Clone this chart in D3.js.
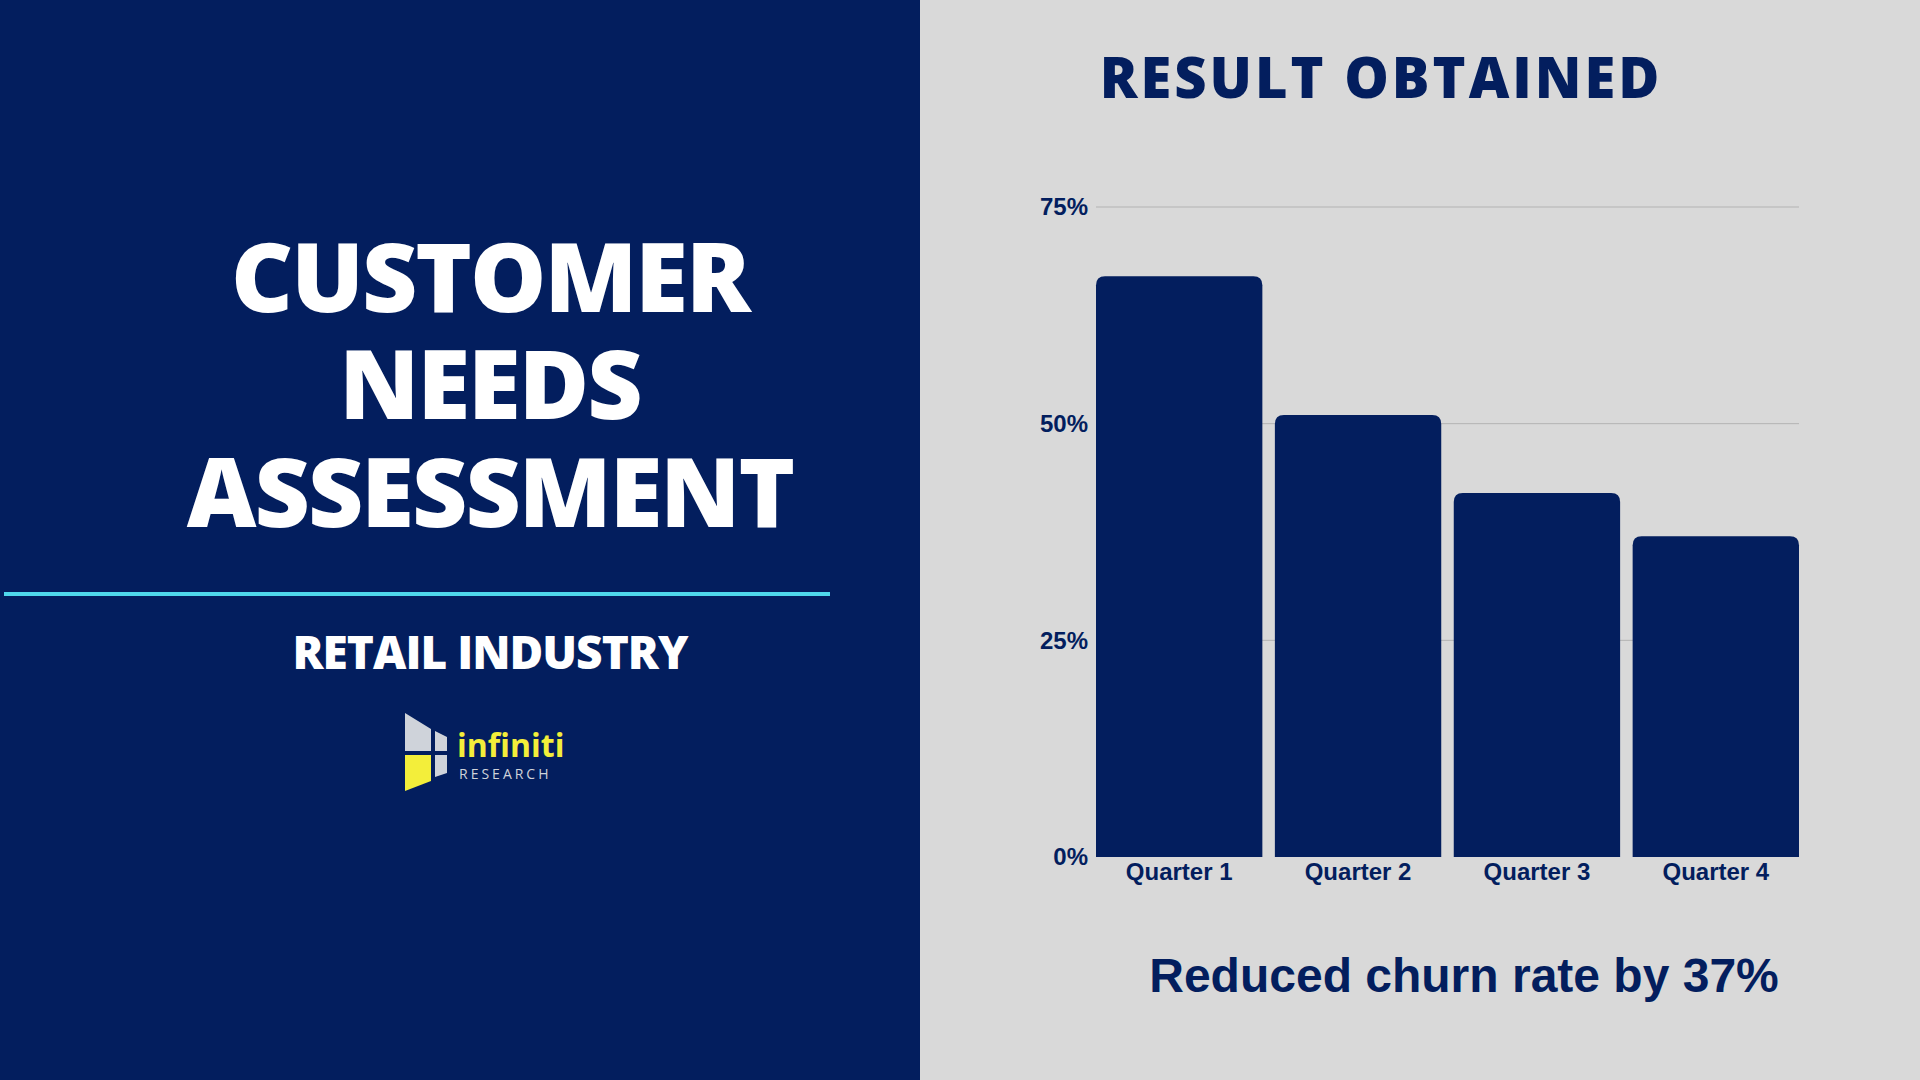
<!DOCTYPE html><html><head><meta charset="utf-8">
<script src="https://cdn.jsdelivr.net/npm/d3@7"></script>
<style>body{margin:0;overflow:hidden}</style></head><body>
<script>
const categories=["Quarter 1","Quarter 2","Quarter 3","Quarter 4"];
const values=[67,51,42,37];
const tickValues=[0,25,50,75];
const W=1920,H=1080,navy="#031e5e";
const svg=d3.select("body").append("svg").attr("width",W).attr("height",H);
svg.append("rect").attr("width",W).attr("height",H).attr("fill","#d9d9d9");
svg.append("rect").attr("width",920).attr("height",H).attr("fill",navy);
const tf="'Open Sans',sans-serif";
[["CUSTOMER",312],["NEEDS",419],["ASSESSMENT",527]].forEach(([t,y])=>svg.append("text").attr("x",490).attr("y",y).attr("text-anchor","middle").attr("fill","#fff").attr("font-family",tf).attr("font-weight",800).attr("font-size",96).attr("letter-spacing",-2).text(t));
svg.append("rect").attr("x",4).attr("y",592).attr("width",826).attr("height",4).attr("fill","#4fd8ec");
svg.append("text").attr("x",490).attr("y",669).attr("text-anchor","middle").attr("fill","#fff").attr("font-family",tf).attr("font-weight",800).attr("font-size",46).attr("letter-spacing",-1).text("RETAIL INDUSTRY");
// logo
const lg=svg.append("g").attr("transform","translate(405,713)");
lg.append("path").attr("d","M0,0 L26,16 L26,38 L0,38Z").attr("fill","#cfd3da");
lg.append("path").attr("d","M30,18 L42,24 L42,38 L30,38Z").attr("fill","#cfd3da");
lg.append("path").attr("d","M0,42 L26,42 L26,68 L0,78Z").attr("fill","#f3ee3a");
lg.append("path").attr("d","M30,42 L42,42 L42,60 L30,64Z").attr("fill","#cfd3da");
lg.append("text").attr("x",52).attr("y",44).attr("fill","#f3ee3a").attr("font-family",tf).attr("font-weight",700).attr("font-size",32).text("infiniti");
lg.append("text").attr("x",54).attr("y",66).attr("fill","#cfd3da").attr("font-family",tf).attr("font-size",14).attr("letter-spacing",3).text("RESEARCH");
// right
svg.append("text").attr("x",1381).attr("y",98).attr("text-anchor","middle").attr("fill",navy).attr("font-family",tf).attr("font-weight",800).attr("font-size",56).attr("letter-spacing",3).text("RESULT OBTAINED");
const x=d3.scaleBand().domain(categories).range([1096,1799]).paddingInner(0.07).paddingOuter(0);
const y=d3.scaleLinear().domain([0,75]).range([857,207]);
svg.append("g").selectAll("line").data(tickValues.slice(1)).join("line").attr("x1",1096).attr("x2",1799).attr("y1",d=>y(d)).attr("y2",d=>y(d)).attr("stroke","#b3b3b3").attr("stroke-width",1);
const r=9;
svg.append("g").selectAll("path").data(values).join("path").attr("fill",navy).attr("d",(d,i)=>{const x0=x(categories[i]),w=x.bandwidth(),t=y(d),b=y(0);return `M${x0},${b}V${t+r}Q${x0},${t} ${x0+r},${t}H${x0+w-r}Q${x0+w},${t} ${x0+w},${t+r}V${b}Z`;});
const ya=svg.append("g").attr("transform","translate(1096,0)").call(d3.axisLeft(y).tickValues(tickValues).tickFormat(d=>d+"%").tickSize(0).tickPadding(8));
ya.select(".domain").remove();
ya.selectAll("text").attr("fill",navy).attr("font-family","Liberation Sans,Arial").attr("font-weight",700).attr("font-size",24);
const xa=svg.append("g").attr("transform","translate(0,857)").call(d3.axisBottom(x).tickSize(0).tickPadding(6));
xa.select(".domain").remove();
xa.selectAll("text").attr("fill",navy).attr("font-family","Liberation Sans,Arial").attr("font-weight",700).attr("font-size",24);
svg.append("text").attr("x",1464).attr("y",992).attr("text-anchor","middle").attr("fill",navy).attr("font-family","Liberation Sans,Arial").attr("font-weight",700).attr("font-size",48).text("Reduced churn rate by 37%");
</script></body></html>
